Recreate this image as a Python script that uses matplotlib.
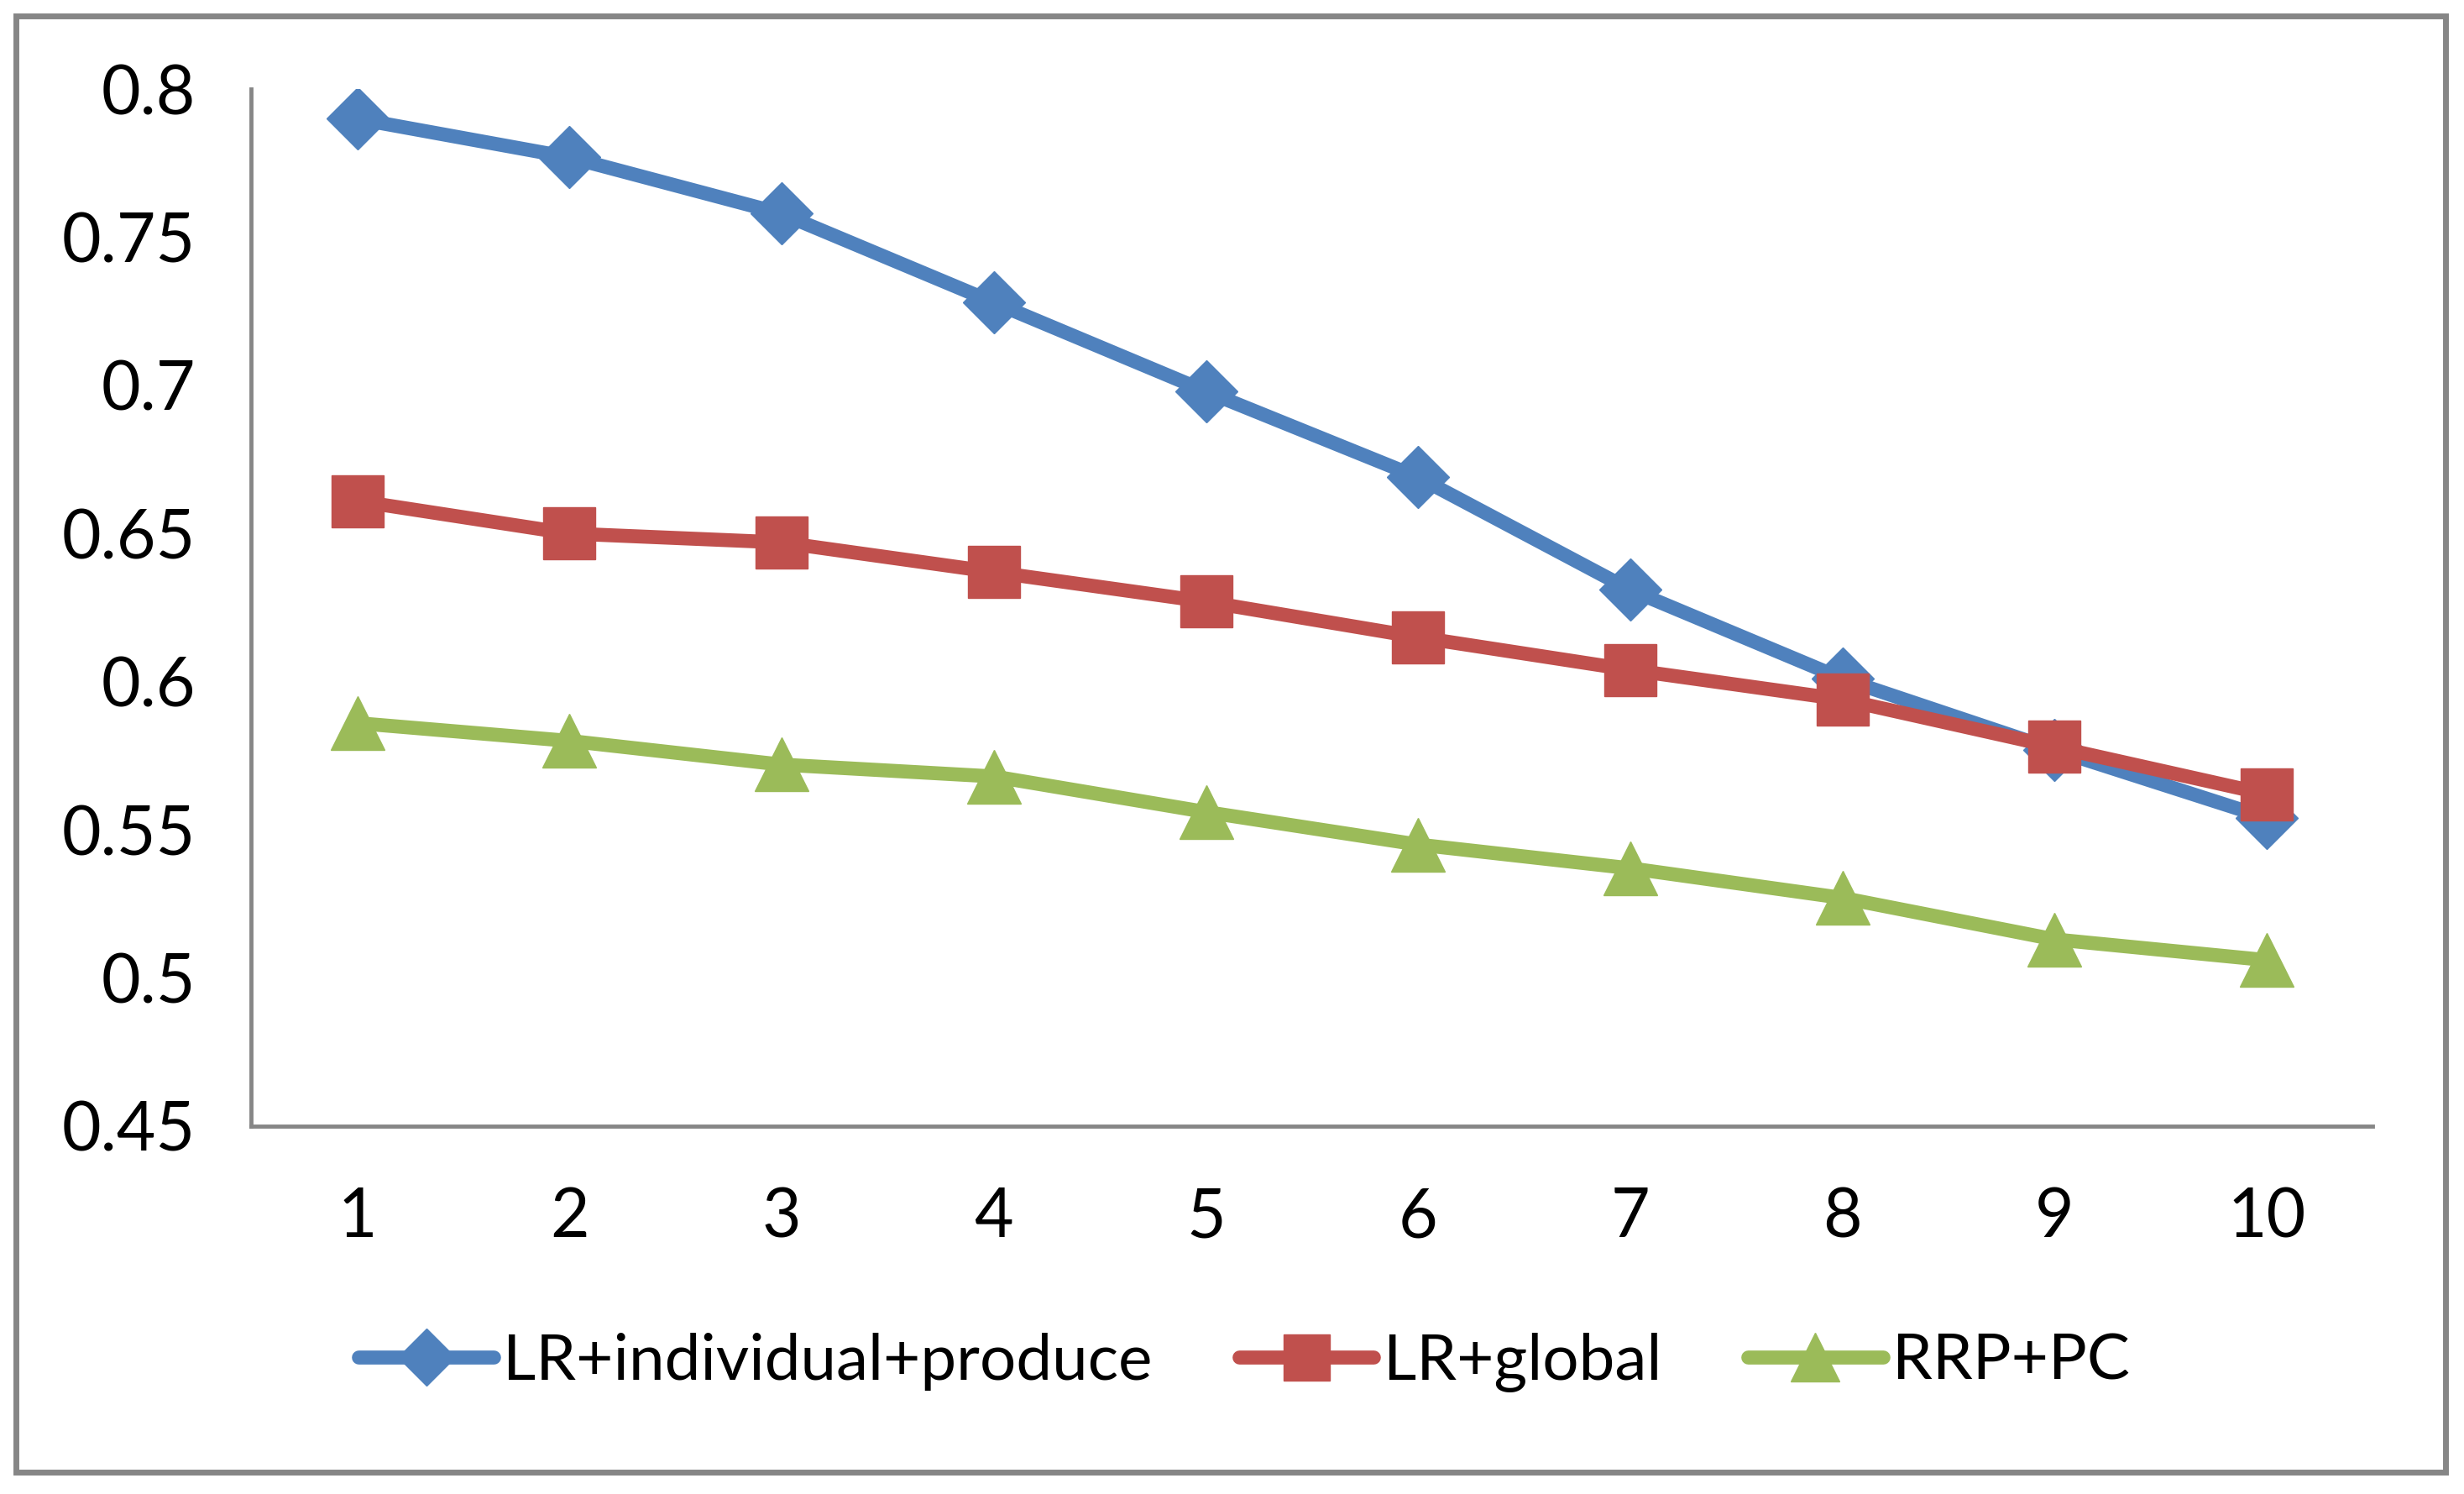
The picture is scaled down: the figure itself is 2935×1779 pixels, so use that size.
import matplotlib
matplotlib.use("Agg")
import matplotlib.pyplot as plt
from matplotlib.patches import Rectangle

categories = [1, 2, 3, 4, 5, 6, 7, 8, 9, 10]
lr_individual = [0.790, 0.777, 0.758, 0.728, 0.698, 0.669, 0.631, 0.601, 0.577, 0.554]
lr_global = [0.661, 0.650, 0.647, 0.637, 0.627, 0.615, 0.604, 0.594, 0.578, 0.562]
rrp_pc = [0.586, 0.580, 0.572, 0.568, 0.556, 0.545, 0.537, 0.527, 0.513, 0.506]
series_names = ["LR+individual+produce", "LR+global", "RRP+PC"]
y_ticks = [0.45, 0.5, 0.55, 0.6, 0.65, 0.7, 0.75, 0.8]
y_ticklabels = ["0.45", "0.5", "0.55", "0.6", "0.65", "0.7", "0.75", "0.8"]

plt.rcParams['font.family'] = ['Lato', 'DejaVu Sans']

fig = plt.figure(figsize=(29.35, 17.79), dpi=100)
ax = fig.add_axes([0.102, 0.2463, 0.861, 0.694])

colors = ["#4F81BD", "#C0504D", "#9BBB59"]
markers = ["D", "s", "^"]
msizes = [38, 44, 46]
for vals, name, c, m, ms in zip([lr_individual, lr_global, rrp_pc], series_names, colors, markers, msizes):
    ax.plot(categories, vals, color=c, lw=12, marker=m, markersize=ms,
            markerfacecolor=c, markeredgecolor=c, label=name, solid_capstyle='round')

ax.set_xlim(0.5, 10.5)
ax.set_ylim(0.45, 0.8)
ax.set_yticks(y_ticks)
ax.set_yticklabels(y_ticklabels)
ax.set_xticks(categories)
ax.set_xticklabels([str(c) for c in categories])
ax.tick_params(axis='both', length=0, labelsize=58)
ax.tick_params(axis='y', pad=48)
ax.tick_params(axis='x', pad=52)
for s in ['top', 'right']:
    ax.spines[s].set_visible(False)
for s in ['left', 'bottom']:
    ax.spines[s].set_color('#868686')
    ax.spines[s].set_linewidth(3.5)

border = Rectangle((10/1568, 1-936/950), (1556-10)/1568, (936-10)/950,
                   transform=fig.transFigure, fill=False, edgecolor='#868686', lw=5)
fig.patches.append(border)

fig.legend(loc='center', bbox_to_anchor=(0.505, 0.088), ncol=3, frameon=False,
           fontsize=55, handlelength=2.1, handletextpad=0.15, columnspacing=1.35,
           markerscale=0.9)

fig.savefig("out.png", dpi=100)
